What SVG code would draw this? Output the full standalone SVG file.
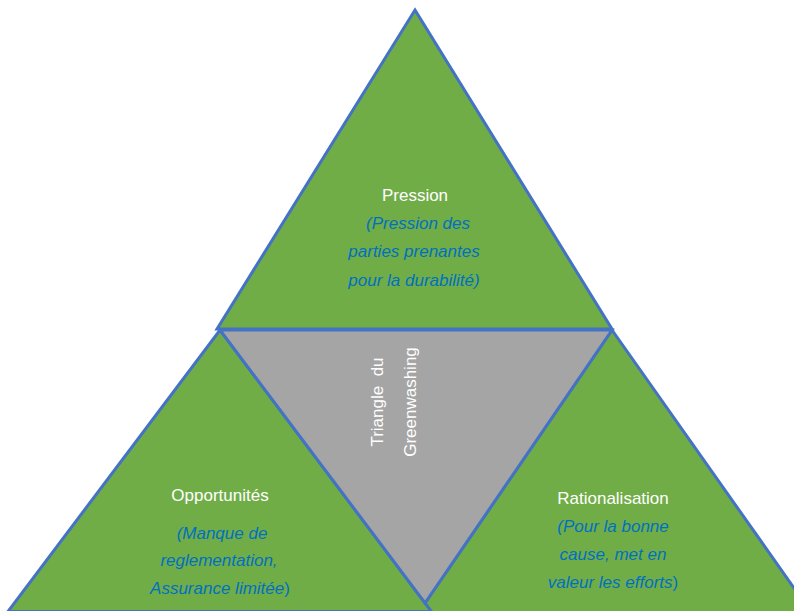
<svg xmlns="http://www.w3.org/2000/svg" width="794" height="611" viewBox="0 0 794 611">
<style>
.tri{fill:#70AD47;stroke:#4472C4;stroke-width:3;stroke-linejoin:miter}
.center{fill:#A5A5A5;stroke:#4472C4;stroke-width:3}
.t{font-family:"Liberation Sans",Arial,sans-serif;font-size:17px;text-anchor:middle}
.w{fill:#FFFFFF}
.b{fill:#0070C0;font-style:italic}
.n{font-style:normal}
</style>
<rect width="794" height="611" fill="#FFFFFF"/>
<g id="pression">
<polygon class="tri" points="415,10 612,329 217,329"/>
<text class="t w" x="415" y="201">Pression</text>
<text class="t b" x="418" y="229">(Pression des</text>
<text class="t b" x="414" y="257">parties prenantes</text>
<text class="t b" x="414" y="286">pour la durabilité)</text>
</g>
<g id="rationalisation">
<polygon class="tri" points="612,330 818,622 412,622"/>
<text class="t w" x="613" y="504">Rationalisation</text>
<text class="t b" x="613" y="532">(Pour la bonne</text>
<text class="t b" x="613" y="560">cause, met en</text>
<text class="t b" x="613" y="588">valeur les efforts<tspan class="n">)</tspan></text>
</g>
<g id="opportunites">
<polygon class="tri" points="220,330 431.4,611.5 8,611.5"/>
<text class="t w" x="220" y="501">Opportunités</text>
<text class="t b" x="222" y="539">(Manque de</text>
<text class="t b" x="219" y="566">reglementation,</text>
<text class="t b" x="220" y="594">Assurance limitée<tspan class="n">)</tspan></text>
</g>
<g id="triangle-centre">
<polygon class="center" points="220,330 612,330 425,603"/>
<text class="t w" transform="translate(383,402) rotate(-90)" x="0" y="0" xml:space="preserve">Triangle  du</text>
<text class="t w" transform="translate(416,402) rotate(-90)" x="0" y="0">Greenwashing</text>
</g>
<g id="connectors"/>
</svg>
